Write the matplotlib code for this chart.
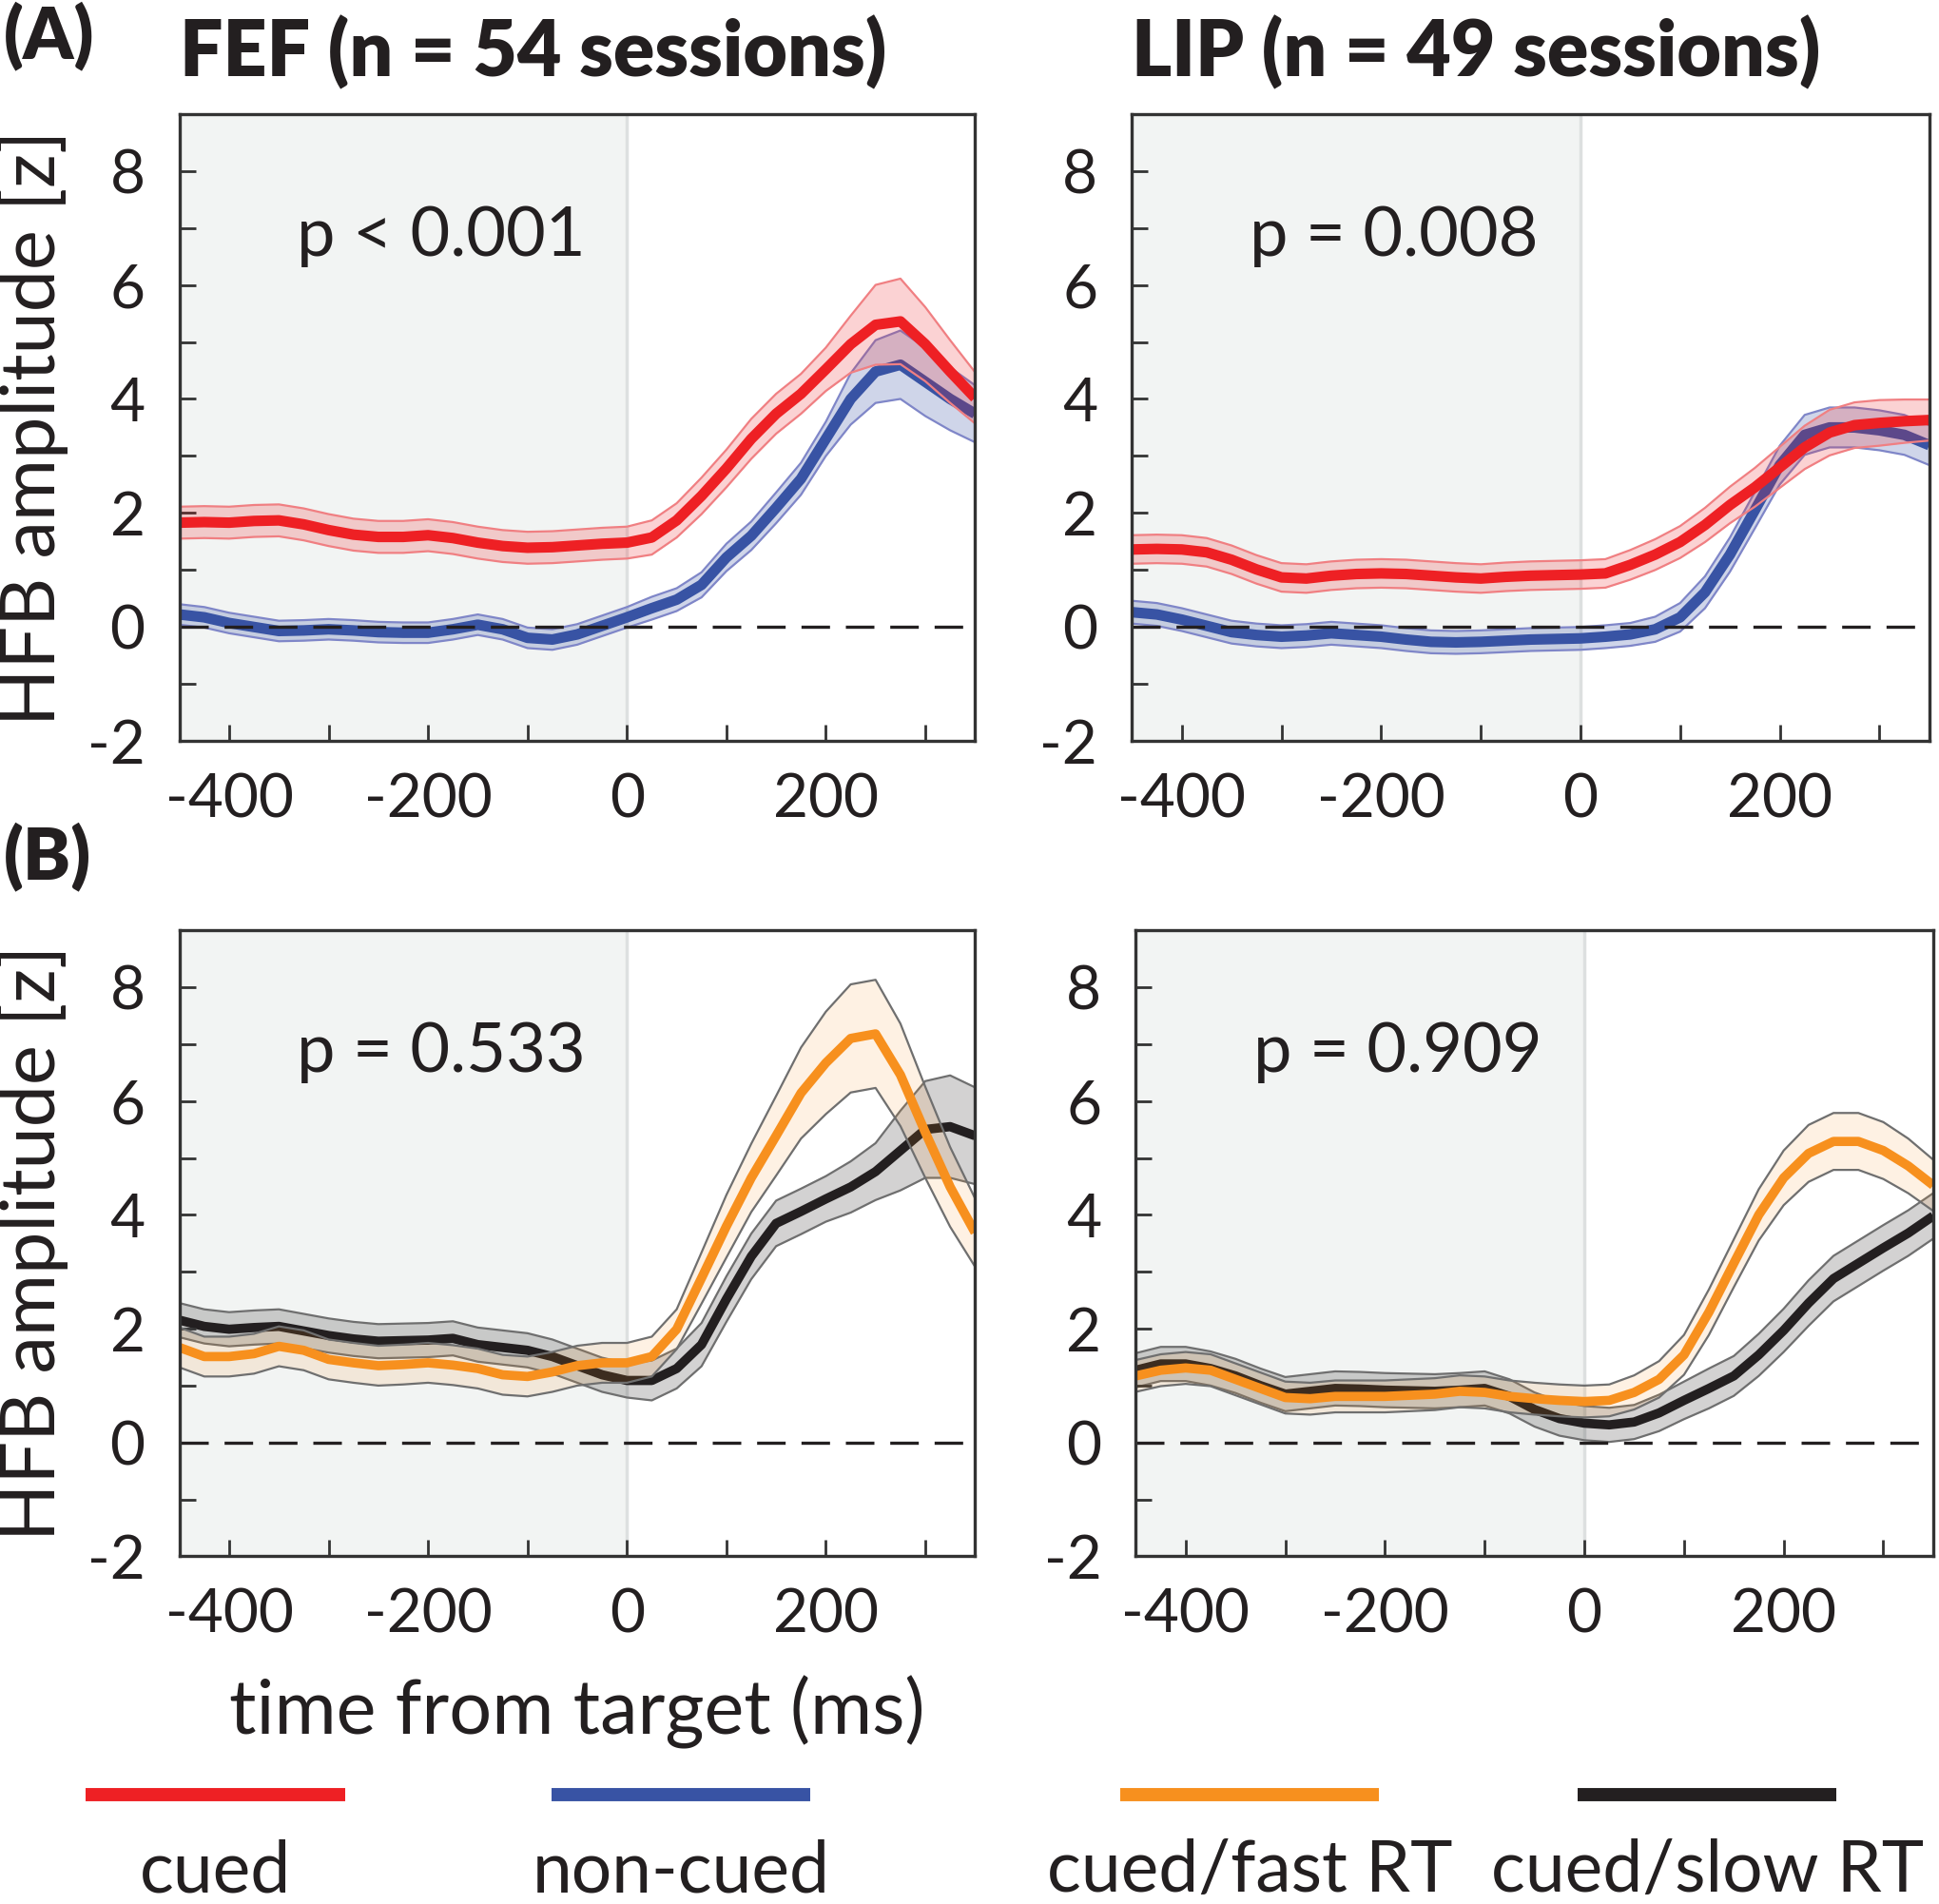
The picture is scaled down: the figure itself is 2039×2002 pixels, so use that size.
import numpy as np
import matplotlib
matplotlib.use("Agg")
import matplotlib.pyplot as plt

plt.rcParams['font.family'] = ['Lato', 'DejaVu Sans']
plt.rcParams['axes.unicode_minus'] = False

# time from target (ms), one reading every 25 ms
time_ms = [-450, -425, -400, -375, -350, -325, -300, -275, -250, -225, -200,
           -175, -150, -125, -100, -75, -50, -25, 0, 25, 50, 75, 100, 125,
           150, 175, 200, 225, 250, 275, 300, 325, 350]

# (A) FEF, cued vs non-cued
fef_cued = [1.83, 1.84, 1.83, 1.86, 1.87, 1.80, 1.70, 1.62, 1.58, 1.58, 1.61,
            1.56, 1.48, 1.42, 1.39, 1.40, 1.43, 1.46, 1.48, 1.57, 1.87, 2.30,
            2.78, 3.30, 3.74, 4.09, 4.52, 4.96, 5.30, 5.36, 4.96, 4.48, 4.02]
fef_cued_se = [0.28] * 19 + [0.30, 0.30, 0.32, 0.33, 0.35, 0.35, 0.35, 0.38,
                             0.50, 0.70, 0.75, 0.65, 0.55, 0.45]
fef_noncued = [0.22, 0.17, 0.07, 0.00, -0.07, -0.06, -0.04, -0.06, -0.09, -0.10,
               -0.10, -0.04, 0.04, -0.04, -0.19, -0.22, -0.13, 0.02, 0.17, 0.33,
               0.48, 0.74, 1.22, 1.60, 2.09, 2.60, 3.30, 4.00, 4.48, 4.60, 4.30,
               4.00, 3.74]
fef_noncued_se = [0.18] * 19 + [0.20, 0.20, 0.22, 0.24, 0.25, 0.27, 0.28, 0.30,
                                0.45, 0.55, 0.60, 0.60, 0.55, 0.50]

# (A) LIP, cued vs non-cued
lip_cued = [1.36, 1.37, 1.36, 1.31, 1.18, 1.01, 0.87, 0.85, 0.90, 0.93, 0.94,
            0.93, 0.90, 0.87, 0.85, 0.88, 0.90, 0.91, 0.92, 0.94, 1.09, 1.27,
            1.49, 1.79, 2.14, 2.45, 2.80, 3.15, 3.41, 3.54, 3.58, 3.61, 3.63]
lip_cued_se = [0.25] * 19 + [0.25, 0.26, 0.27, 0.28, 0.30, 0.32, 0.34, 0.36,
                             0.38, 0.40, 0.40, 0.40, 0.38, 0.36]
lip_noncued = [0.26, 0.22, 0.13, 0.02, -0.09, -0.14, -0.17, -0.15, -0.11, -0.14,
               -0.17, -0.22, -0.26, -0.27, -0.26, -0.24, -0.22, -0.21, -0.20,
               -0.17, -0.13, -0.04, 0.17, 0.61, 1.27, 2.05, 2.84, 3.37, 3.50,
               3.50, 3.45, 3.37, 3.19]
lip_noncued_se = [0.20] * 19 + [0.20, 0.20, 0.22, 0.25, 0.28, 0.30, 0.32, 0.34,
                                0.35, 0.35, 0.35, 0.35, 0.35, 0.35]

# (B) FEF, cued trials split by reaction time
fef_fast = [1.67, 1.51, 1.51, 1.56, 1.69, 1.62, 1.46, 1.40, 1.35, 1.37, 1.40,
            1.36, 1.30, 1.19, 1.16, 1.24, 1.35, 1.40, 1.40, 1.51, 1.99, 2.89,
            3.80, 4.65, 5.39, 6.14, 6.67, 7.10, 7.18, 6.46, 5.45, 4.49, 3.69]
fef_fast_se = [0.35] * 19 + [0.35, 0.35, 0.45, 0.55, 0.60, 0.70, 0.80, 0.90,
                             0.95, 0.95, 0.90, 0.80, 0.70, 0.60]
fef_slow = [2.15, 2.04, 1.99, 2.02, 2.04, 1.96, 1.88, 1.82, 1.78, 1.79, 1.80,
            1.83, 1.72, 1.67, 1.62, 1.51, 1.35, 1.19, 1.09, 1.09, 1.30, 1.72,
            2.52, 3.27, 3.85, 4.06, 4.28, 4.49, 4.76, 5.13, 5.50, 5.55, 5.39]
fef_slow_se = [0.30] * 19 + [0.35, 0.35, 0.38, 0.40, 0.40, 0.40, 0.40, 0.40,
                             0.45, 0.50, 0.70, 0.85, 0.90, 0.85]

# (B) LIP, cued trials split by reaction time
lip_fast = [1.17, 1.27, 1.31, 1.27, 1.11, 0.95, 0.79, 0.77, 0.81, 0.81, 0.81,
            0.83, 0.85, 0.90, 0.88, 0.81, 0.77, 0.74, 0.72, 0.74, 0.88, 1.11,
            1.54, 2.29, 3.15, 4.00, 4.65, 5.08, 5.29, 5.29, 5.13, 4.86, 4.52]
lip_fast_se = [0.28] * 19 + [0.28, 0.30, 0.32, 0.35, 0.40, 0.42, 0.45, 0.48,
                             0.50, 0.50, 0.50, 0.50, 0.48, 0.45]
lip_slow = [1.27, 1.38, 1.38, 1.30, 1.17, 1.00, 0.85, 0.90, 0.95, 0.94, 0.92,
            0.91, 0.90, 0.92, 0.95, 0.81, 0.58, 0.42, 0.34, 0.31, 0.36, 0.52,
            0.74, 0.95, 1.17, 1.54, 1.97, 2.45, 2.88, 3.15, 3.42, 3.68, 3.98]
lip_slow_se = [0.30] * 19 + [0.30, 0.30, 0.32, 0.33, 0.35, 0.35, 0.37, 0.38,
                             0.40, 0.40, 0.40, 0.40, 0.40, 0.40]

p_values = ['p < 0.001', 'p = 0.008', 'p = 0.533', 'p = 0.909']
titles = ['FEF (n = 54 sessions)', 'LIP (n = 49 sessions)']
legend_labels = ['cued', 'non-cued', 'cued/fast RT', 'cued/slow RT']

RED = '#ee2024'
BLUE = '#3853a4'
ORANGE = '#f7901e'
BLACK = '#231f20'
TXT = '#231f20'

# colour, band alpha, band edge colour
styles = {
    'cued': (RED, 0.20, '#f07f82'),
    'non-cued': (BLUE, 0.24, '#7f86c8'),
    'cued/fast RT': (ORANGE, 0.12, '#6f6f6f'),
    'cued/slow RT': (BLACK, 0.20, '#6f6f6f'),
}

t = np.array(time_ms)


def draw_panel(ax, series, ptext, lw):
    ax.axvspan(-450, 0, color='#f2f4f3', lw=0, zorder=0)
    ax.axvline(0, color='#dde0e0', lw=2.5, zorder=0.5)
    z = 1
    for name, mean, se in series:
        col, alpha, edge = styles[name]
        mean = np.array(mean)
        se = np.array(se)
        ax.fill_between(t, mean - se, mean + se, color=col, alpha=alpha, lw=0, zorder=z)
        ax.plot(t, mean - se, color=edge, lw=1.6, zorder=z + 0.1)
        ax.plot(t, mean + se, color=edge, lw=1.6, zorder=z + 0.1)
        ax.plot(t, mean, color=col, lw=lw, solid_capstyle='butt',
                solid_joinstyle='round', zorder=z + 0.05)
        z += 1
    ax.axhline(0, color=BLACK, lw=2.4, dashes=(9, 5), zorder=10)
    ax.text(-332, 6.85, ptext, fontsize=52, color=TXT, va='center', ha='left', zorder=11)

    ax.set_xlim(-450, 350)
    ax.set_ylim(-2, 9)
    ax.set_xticks([-400, -300, -200, -100, 0, 100, 200, 300])
    ax.set_xticklabels(['-400', '', '-200', '', '0', '', '200', ''])
    ax.set_yticks(list(range(-2, 9)))
    ax.set_yticklabels([str(v) if v % 2 == 0 else '' for v in range(-2, 9)])
    ax.tick_params(direction='in', length=12, width=2, colors='#333333',
                   labelcolor=TXT, labelsize=46)
    ax.tick_params(axis='y', pad=26)
    ax.tick_params(axis='x', pad=24)
    for s in ax.spines.values():
        s.set_linewidth(2.4)
        s.set_color('#333333')
        s.set_zorder(12)


fig = plt.figure(figsize=(20.40, 20.02), dpi=100)

ax_tl = fig.add_axes([0.0925, 0.6108, 0.4101, 0.3294])
ax_tr = fig.add_axes([0.5835, 0.6108, 0.4110, 0.3294])
ax_bl = fig.add_axes([0.0925, 0.1826, 0.4101, 0.3288])
ax_br = fig.add_axes([0.5855, 0.1826, 0.4110, 0.3288])

draw_panel(ax_tl, [('non-cued', fef_noncued, fef_noncued_se),
                   ('cued', fef_cued, fef_cued_se)], p_values[0], 8)
draw_panel(ax_tr, [('non-cued', lip_noncued, lip_noncued_se),
                   ('cued', lip_cued, lip_cued_se)], p_values[1], 8)
draw_panel(ax_bl, [('cued/slow RT', fef_slow, fef_slow_se),
                   ('cued/fast RT', fef_fast, fef_fast_se)], p_values[2], 7)
draw_panel(ax_br, [('cued/slow RT', lip_slow, lip_slow_se),
                   ('cued/fast RT', lip_fast, lip_fast_se)], p_values[3], 7)

for ax in (ax_tl, ax_bl):
    ax.set_ylabel('HFB amplitude [z]', fontsize=57, color=TXT)
    ax.yaxis.set_label_coords(-0.14, 0.5)
ax_bl.set_xlabel('time from target (ms)', fontsize=57, color=TXT, va='top')
ax_bl.xaxis.set_label_coords(0.5, -0.19)

for ax, title in zip((ax_tl, ax_tr), titles):
    ax.text(0.0, 1.059, title, transform=ax.transAxes, fontsize=58,
            fontweight='heavy', color=TXT, ha='left', va='baseline')

fig.text(0.002, 0.9695, '(A)', fontsize=54, fontweight='heavy', color=TXT, ha='left', va='baseline')
fig.text(0.002, 0.5382, '(B)', fontsize=54, fontweight='heavy', color=TXT, ha='left', va='baseline')

# legend strip along the bottom
leg = fig.add_axes([0.0, 0.0, 1.0, 0.08])
leg.set_xlim(0, 1)
leg.set_ylim(0, 1)
leg.axis('off')
centers = [0.111, 0.351, 0.644, 0.880]
for c, name in zip(centers, legend_labels):
    leg.plot([c - 0.0667, c + 0.0667], [0.72, 0.72], color=styles[name][0],
             lw=10, solid_capstyle='butt')
    leg.text(c, 0.0, name, fontsize=54, color=TXT, ha='center', va='bottom')

fig.savefig('out.png', dpi=100)
